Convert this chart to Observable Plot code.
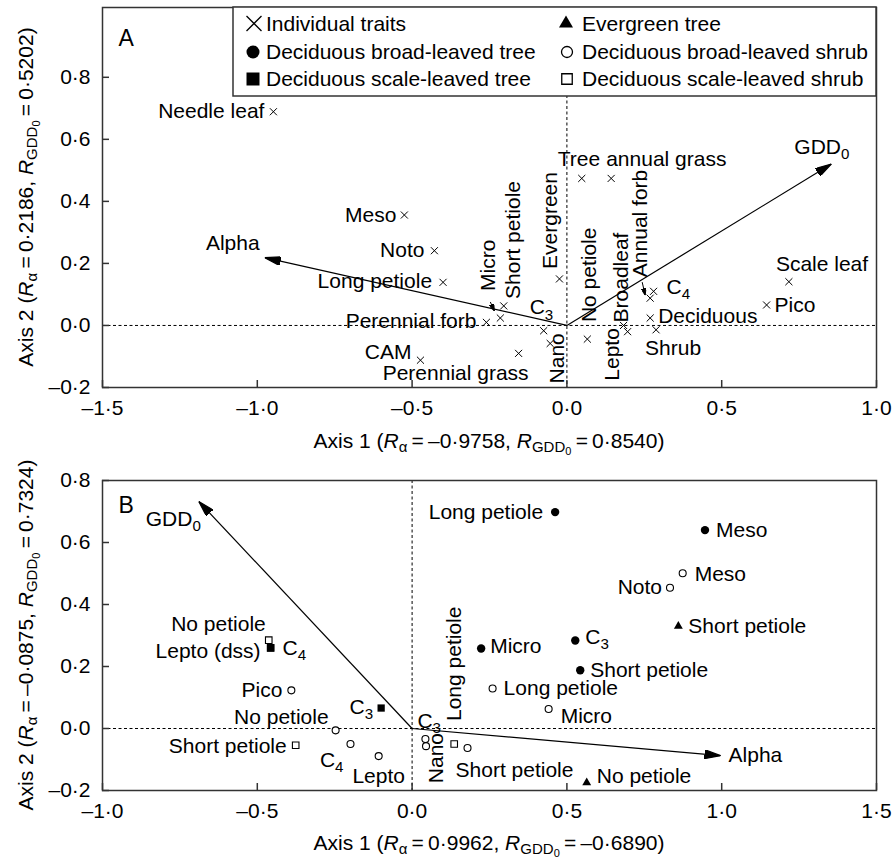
<!DOCTYPE html>
<html><head><meta charset="utf-8">
<script src="https://cdn.jsdelivr.net/npm/d3@7"></script>
<script src="https://cdn.jsdelivr.net/npm/@observablehq/plot@0.6"></script>
<style>
html,body{margin:0;padding:0;background:#fff;}
#chart{width:893px;height:860px;position:relative;}
#chart svg{display:block;}
</style></head><body><div id="chart"></div>
<script>
// ================= DATA =================
// Tick values
const ticksAx = [-1.5, -1.0, -0.5, 0.0, 0.5, 1.0];
const ticksAy = [-0.2, 0.0, 0.2, 0.4, 0.6, 0.8];
const ticksBx = [-1.0, -0.5, 0.0, 0.5, 1.0, 1.5];
const ticksBy = [-0.2, 0.0, 0.2, 0.4, 0.6, 0.8];

// Environmental vectors (Alpha, GDD0)
const vectorNames = ["Alpha", "GDD_0"];
const vectorAxis1A = [-0.9758, 0.8540];
const vectorAxis2A = [0.2186, 0.5202];
const vectorAxis1B = [0.9962, -0.6890];
const vectorAxis2B = [-0.0875, 0.7324];

// Panel A: individual traits (x)
const traitNamesA = ["Needle leaf","Meso","Noto","Long petiole","Perennial forb","CAM","Perennial grass","Micro","Short petiole","C_3","Evergreen","Nano","No petiole","Broadleaf","Lepto","Annual forb","C_4","Deciduous","Shrub","Pico","Scale leaf","Tree","annual grass"];
const traitAxis1A = [-0.948,-0.525,-0.428,-0.400,-0.260,-0.473,-0.156,-0.215,-0.204,-0.075,-0.024,-0.054,0.066,0.183,0.196,0.269,0.280,0.269,0.288,0.645,0.717,0.048,0.143];
const traitAxis2A = [0.689,0.356,0.241,0.139,0.010,-0.112,-0.090,0.024,0.063,-0.017,0.150,-0.058,-0.044,0.000,-0.020,0.088,0.110,0.024,-0.014,0.066,0.141,0.474,0.474];

// Panel B: traits within plant functional types
const etNames = ["Short petiole","No petiole"];                       // Evergreen tree
const etAxis1 = [0.860, 0.564];
const etAxis2 = [0.330, -0.175];
const dbtNames = ["Long petiole","Meso","Micro","C_3","Short petiole"]; // Deciduous broad-leaved tree
const dbtAxis1 = [0.462, 0.946, 0.223, 0.527, 0.543];
const dbtAxis2 = [0.698, 0.640, 0.258, 0.284, 0.188];
const dbsNames = ["Meso","Noto","Long petiole","Micro","Short petiole","Pico","No petiole","C_4","Lepto","C_3","Nano"]; // Deciduous broad-leaved shrub
const dbsAxis1 = [0.874, 0.833, 0.260, 0.441, 0.179, -0.390, -0.247, -0.199, -0.108, 0.043, 0.045];
const dbsAxis2 = [0.501, 0.454, 0.129, 0.063, -0.063, 0.123, -0.006, -0.050, -0.089, -0.034, -0.057];
const dstNames = ["C_4","C_3"];                                         // Deciduous scale-leaved tree
const dstAxis1 = [-0.457, -0.100];
const dstAxis2 = [0.260, 0.066];
const dssNames = ["No petiole","Short petiole","Long petiole","Lepto (dss)"]; // Deciduous scale-leaved shrub
const dssAxis1 = [-0.463, -0.376, 0.136, -0.457];
const dssAxis2 = [0.285, -0.054, -0.050, 0.260];

const legendLabels = ["Individual traits","Evergreen tree","Deciduous broad-leaved tree","Deciduous broad-leaved shrub","Deciduous scale-leaved tree","Deciduous scale-leaved shrub"];

// ================= LABEL PLACEMENT (pixels: anchor, dx, dy, rotate) =================
const placeA = [
  ["end",-9,0],["end",-8,0],["end",-10,0],["end",-11,-1],["end",-10,-1],["end",-9,-8],["end",10,20],
  ["start",-12,-27,-90],["start",10,-7,-90],["start",-14,-23],["start",-9,-10,-90],["start",7,40,-90],
  ["start",2,-17,-90],["start",-2,-3,-90],["start",-15,49,-90],["start",-10,-21,-90],["start",13,-4],
  ["start",8,-2],["start",-11,18],["start",8,0],["start",-13,-17],["start",-24,-19],["start",-5,-19]
];
const placeVecA = [["middle",-32,-14],["start",-37,-17]];
const placeVecB = [["start",8,0],["end",2,18]];
const placeEt = [["start",10,0],["start",10,-6]];
const placeDbt = [["end",-12,0],["start",11,0],["start",9,-2],["start",10,-3],["start",10,0]];
const placeDbs = [["start",12,1],["end",-8,0],["start",11,0],["start",12,7],["start",-12,22],["end",-9,0],["end",-7,-13],["end",-7,16],["middle",0,20],["start",-8,-18],["start",10,37,-90]];
const placeDst = [["start",12,0],["end",-8,-1]];
const placeDss = [["end",-3,-16],["end",-9,1],["start",0,-23,-90],["end",-10,3]];
// small pointer arrows in panel A (pixel offsets from the point: start, end)
const pointersA = {"Micro": [-10,-16,-6,-7], "Annual forb": [-8,-16,-5,-3]};

// ================= HELPERS =================
const FONT = '"Liberation Sans", Arial, Helvetica, sans-serif';
const FS = 21;
const W = 893;
const fmt = d => d3.format(".1f")(d).replace(".", "·").replace("−", "–").replace("-", "–");
const fmt4 = d => d3.format(".4f")(d).replace(".", "·").replace("−", "–").replace("-", "–");
const rows = (names, xs, ys, place) => names.map((n, i) => ({name: n, x: xs[i], y: ys[i], place: place[i]}));

function makeHead(len, wid) {
  return function (color, context) {
    const doc = (context && context.document) || document;
    const ns = "http://www.w3.org/2000/svg";
    const m = doc.createElementNS(ns, "marker");
    m.setAttribute("viewBox", `${-len} ${-wid/2} ${len} ${wid}`);
    m.setAttribute("markerWidth", len);
    m.setAttribute("markerHeight", wid);
    m.setAttribute("markerUnits", "userSpaceOnUse");
    m.setAttribute("orient", "auto");
    m.setAttribute("refX", 0);
    m.setAttribute("refY", 0);
    const p = doc.createElementNS(ns, "path");
    p.setAttribute("d", `M${-len},${-wid/2}L0,0L${-len},${wid/2}Z`);
    p.setAttribute("fill", color && color !== "currentColor" ? color : "#000");
    m.appendChild(p);
    return m;
  };
}
let HEAD = "arrow", HEAD_SMALL = "arrow";
try {
  const h = makeHead(16, 9);
  Plot.plot({marks: [Plot.link([0], {x1: () => 0, x2: () => 1, y1: () => 0, y2: () => 1, markerEnd: h})]});
  HEAD = h; HEAD_SMALL = makeHead(7, 5);
} catch (e) {}

function textMarks(data) {
  return data.map(d => {
    const [anchor, dx, dy, rot] = d.place;
    return Plot.text([d], {x: "x", y: "y", text: "name", textAnchor: anchor, dx, dy, rotate: rot || 0, fontSize: FS, fill: "#000"});
  });
}

function subscriptify(svg) {
  d3.select(svg).selectAll("text").each(function () {
    if (this.querySelector("tspan")) return;
    const t = this.textContent;
    if (!t || !t.includes("_")) return;
    const [base, sub] = t.split("_");
    const sel = d3.select(this);
    sel.text(null);
    sel.append("tspan").text(base);
    sel.append("tspan").attr("dy", "0.35em").attr("font-size", "0.72em").text(sub);
  });
}

function axisTitle(svg, x, y, rot, axisNum, ra, rg) {
  const t = d3.select(svg).append("text")
    .attr("transform", `translate(${x},${y}) rotate(${rot})`)
    .attr("text-anchor", "middle").attr("font-size", FS).attr("font-family", FONT).attr("fill", "#000");
  const eq = "\u2009=\u2009";
  t.append("tspan").text(`Axis ${axisNum} (`);
  t.append("tspan").attr("font-style", "italic").text("R");
  t.append("tspan").attr("font-size", 15).attr("dy", 4).text("α");
  t.append("tspan").attr("dy", -4).text(eq + fmt4(ra) + ", ");
  t.append("tspan").attr("font-style", "italic").text("R");
  t.append("tspan").attr("font-size", 15).attr("dy", 4).text("GDD");
  t.append("tspan").attr("font-size", 11).attr("dy", 2.5).text("0");
  t.append("tspan").attr("dy", -6.5).text(eq + fmt4(rg) + ")");
}

function makePanel(o) {
  const innerW = W - o.ml - o.mr;
  const innerH = o.height - o.mt - o.mb;
  const k = innerW / (o.xdom[1] - o.xdom[0]);
  const marks = [
    Plot.ruleX([0], {x: d => d, stroke: "#000", strokeWidth: 1, strokeDasharray: "3,2.5"}),
    Plot.ruleY([0], {y: d => d, stroke: "#000", strokeWidth: 1, strokeDasharray: "3,2.5"}),
    Plot.link(o.vectors, {x1: () => 0, y1: () => 0, x2: "x", y2: "y", stroke: "#000", strokeWidth: 1.2, markerEnd: HEAD})
  ];
  if (o.pointers) {
    const pd = o.pointerData;
    marks.push(Plot.link(pd, {
      x1: d => d.x + o.pointers[d.name][0] / k, y1: d => d.y - o.pointers[d.name][1] / k,
      x2: d => d.x + o.pointers[d.name][2] / k, y2: d => d.y - o.pointers[d.name][3] / k,
      stroke: "#000", strokeWidth: 1, markerEnd: HEAD_SMALL}));
  }
  for (const g of o.groups) {
    marks.push(Plot.dot(g.data, {x: "x", y: "y", symbol: g.symbol, r: g.r, fill: g.fill, stroke: g.stroke, strokeWidth: g.sw}));
  }
  for (const g of o.groups) marks.push(...textMarks(g.data));
  marks.push(...textMarks(o.vectors));
  marks.push(Plot.tickX(o.xt, {x: d => d, insetTop: innerH - 7, stroke: "#333", strokeWidth: 1.5}));
  marks.push(Plot.tickY(o.yt, {y: d => d, insetRight: innerW - 7, stroke: "#333", strokeWidth: 1.5}));
  marks.push(Plot.frame({stroke: "#333", strokeWidth: 1.5}));
  marks.push(Plot.text([o.letter], {frameAnchor: "top-left", textAnchor: "start", lineAnchor: "middle", dx: 16, dy: o.letterDy, fontSize: 23, fill: "#000"}));
  const svg = Plot.plot({
    width: W, height: o.height,
    marginTop: o.mt, marginBottom: o.mb, marginLeft: o.ml, marginRight: o.mr,
    style: {fontFamily: FONT, fontSize: FS + "px", color: "#000", background: "#fff"},
    x: {domain: o.xdom, ticks: o.xt, tickFormat: fmt, tickSize: 0, tickPadding: 13, label: null},
    y: {domain: o.ydom, ticks: o.yt, tickFormat: fmt, tickSize: 0, tickPadding: 12, label: null},
    marks
  });
  subscriptify(svg);
  return svg;
}

// ================= PANEL A =================
const traitsA = rows(traitNamesA, traitAxis1A, traitAxis2A, placeA);
const svgA = makePanel({
  height: 460, mt: 7, mb: 73, ml: 102, mr: 17,
  xdom: [-1.5, 1.0], ydom: [-0.2, 1.025], xt: ticksAx, yt: ticksAy,
  vectors: rows(vectorNames, vectorAxis1A, vectorAxis2A, placeVecA),
  pointers: pointersA, pointerData: traitsA.filter(d => pointersA[d.name]),
  groups: [{data: traitsA, symbol: "times", r: 3.3, fill: "none", stroke: "#000", sw: 1}],
  letter: "A", letterDy: 31
});
axisTitle(svgA, 489, 448, 0, 1, vectorAxis1A[0], vectorAxis1A[1]);
axisTitle(svgA, 33, 197, -90, 2, vectorAxis2A[0], vectorAxis2A[1]);

// Legend (inside panel A, top right)
{
  const g = d3.select(svgA).append("g").attr("font-family", FONT).attr("font-size", FS).attr("fill", "#000").attr("text-anchor", "start");
  g.append("rect").attr("x", 233).attr("y", 7).attr("width", 643).attr("height", 89)
    .attr("fill", "#fff").attr("stroke", "#333").attr("stroke-width", 1.5);
  const rowsY = [23.5, 52, 79];
  const items = [
    {sym: d3.symbolTimes, size: 148, fill: "none", stroke: "#000", mx: 254, tx: 266, ry: 0},
    {sym: d3.symbolTriangle, size: 85, fill: "#000", stroke: "none", mx: 566, tx: 582, ry: 0},
    {sym: d3.symbolCircle, size: 133, fill: "#000", stroke: "none", mx: 253, tx: 266, ry: 1},
    {sym: d3.symbolCircle, size: 95, fill: "#fff", stroke: "#000", mx: 567, tx: 582, ry: 1},
    {sym: d3.symbolSquare, size: 169, fill: "#000", stroke: "none", mx: 253, tx: 266, ry: 2},
    {sym: d3.symbolSquare, size: 110, fill: "#fff", stroke: "#000", mx: 567, tx: 582, ry: 2}
  ];
  items.forEach((it, i) => {
    const y = rowsY[it.ry];
    g.append("path").attr("d", d3.symbol(it.sym, it.size)()).attr("transform", `translate(${it.mx},${y})`)
      .attr("fill", it.fill).attr("stroke", it.stroke).attr("stroke-width", 1.3);
    g.append("text").attr("x", it.tx).attr("y", y).attr("dy", "0.35em").attr("text-anchor", "start").text(legendLabels[i]);
  });
}

// ================= PANEL B =================
const svgB = makePanel({
  height: 400, mt: 20, mb: 70, ml: 102, mr: 17,
  xdom: [-1.0, 1.5], ydom: [-0.2, 0.8], xt: ticksBx, yt: ticksBy,
  vectors: rows(vectorNames, vectorAxis1B, vectorAxis2B, placeVecB),
  groups: [
    {data: rows(dssNames, dssAxis1, dssAxis2, placeDss), symbol: "square", r: 3.7, fill: "#fff", stroke: "#000", sw: 1.1},
    {data: rows(dbsNames, dbsAxis1, dbsAxis2, placeDbs), symbol: "circle", r: 3.5, fill: "#fff", stroke: "#000", sw: 1.1},
    {data: rows(dstNames, dstAxis1, dstAxis2, placeDst), symbol: "square", r: 4.1, fill: "#000", stroke: "none", sw: 0},
    {data: rows(dbtNames, dbtAxis1, dbtAxis2, placeDbt), symbol: "circle", r: 4.2, fill: "#000", stroke: "none", sw: 0},
    {data: rows(etNames, etAxis1, etAxis2, placeEt), symbol: "triangle", r: 3.3, fill: "#000", stroke: "none", sw: 0}
  ],
  letter: "B", letterDy: 25
});
axisTitle(svgB, 489, 390, 0, 1, vectorAxis1B[0], vectorAxis1B[1]);
axisTitle(svgB, 33, 175, -90, 2, vectorAxis2B[0], vectorAxis2B[1]);

document.getElementById("chart").append(svgA, svgB);
</script></body></html>
